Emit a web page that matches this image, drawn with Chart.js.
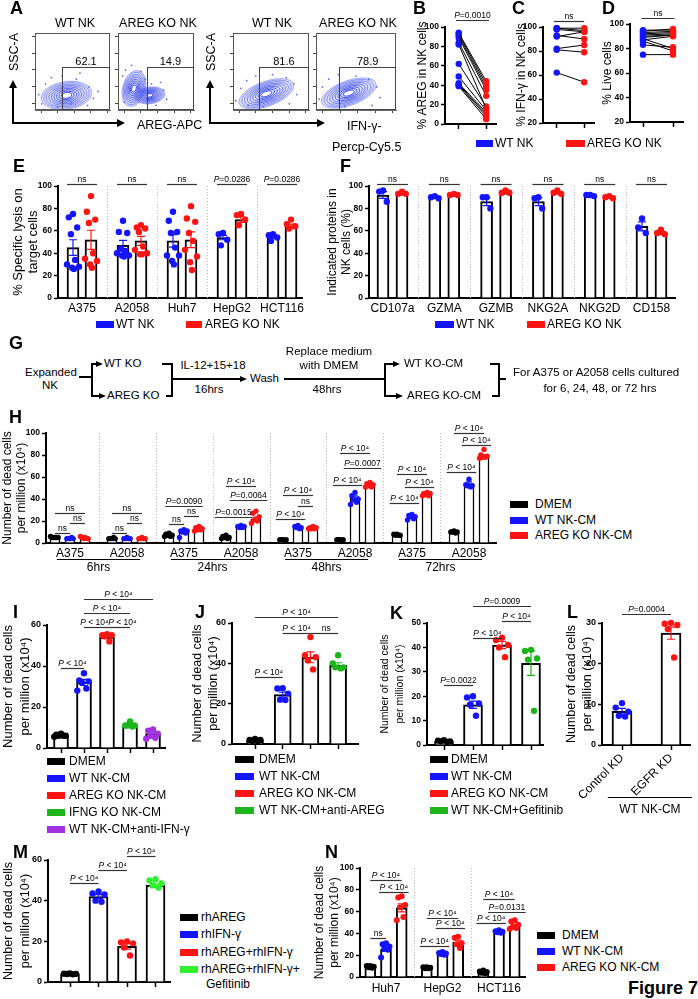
<!DOCTYPE html>
<html lang="en">
<head>
<meta charset="UTF-8">
<title>Figure 7</title>
<script src="https://cdn.jsdelivr.net/npm/chart.js"></script>
<style>
  body { margin: 0; width: 698px; height: 999px; position: relative; overflow: hidden; background: #fff;
         font-family: Arial, "Liberation Sans", Helvetica, sans-serif; color: #000; }
  canvas { position: absolute; }
  .t { position: absolute; white-space: nowrap; line-height: 1; }
  .ln { position: absolute; }
</style>
</head>
<body>
<script>
// ---------- data ----------
// A: flow cytometry plots
const flowTitles = ['WT NK', 'AREG KO NK', 'WT NK', 'AREG KO NK'];
const flowGatePct = ['62.1', '14.9', '81.6', '78.9'];
const flowGateLeft = [36, 38, 34, 29];
const flowGateTop = [56, 56, 56, 56];
// density blobs [cx, cy, rx, ry, tilt]
const flowBlobs = [
  [[42, 19, 34, 18, 8]],
  [[21, 28, 15, 24, -15], [42, 19, 20, 11, 8]],
  [[44, 21, 38, 16, 20]],
  [[41, 22, 36, 16, 20]]
];
const flowDots = [
  [[5, 20], [9, 8], [14, 34], [22, 42], [36, 44], [55, 40], [72, 30], [78, 15], [70, 6], [30, 4], [60, 48], [84, 24], [48, 8]],
  [[6, 44], [10, 52], [18, 58], [30, 50], [44, 34], [60, 26], [64, 14], [50, 6], [8, 10], [36, 40], [56, 36]],
  [[4, 12], [10, 28], [18, 38], [30, 44], [52, 46], [70, 42], [80, 34], [84, 20], [74, 8], [40, 4], [20, 6]],
  [[4, 14], [8, 30], [16, 40], [28, 46], [50, 44], [66, 40], [76, 30], [80, 16], [70, 6], [36, 4]]
];

// B-D: paired WT NK vs AREG KO NK
const pairLegend = ['WT NK', 'AREG KO NK'];
const bWT = [94, 93, 91, 89, 84, 82, 62, 49, 42, 41, 40, 39];
const bKO = [44, 41, 38, 35, 29, 16, 18, 14, 12, 10, 8, 5];
const cWT = [99, 99, 98, 93, 92, 82, 81, 62];
const cKO = [99, 97, 96, 90, 96, 85, 79, 54];
const dWT = [95, 94, 93, 92, 91, 90, 89, 88, 87, 86, 83, 75];
const dKO = [95, 96, 94, 93, 92, 91, 91, 80, 90, 78, 81, 75];

// E: % specific lysis
const eCells = ['A375', 'A2058', 'Huh7', 'HepG2', 'HCT116'];
const eWT = [45, 47, 51, 54, 55];
const eWTsem = [7, 4.5, 5.5, 2, 1.5];
const eKO = [52, 51, 52, 70, 64];
const eKOsem = [8.5, 4, 7, 2.5, 2];
const eWTpts = [[75, 72, 63, 57, 34, 30, 28, 27, 26], [69, 59, 58, 44, 42, 40, 38, 38, 37], [77, 69, 59, 58, 45, 38, 38, 33, 30], [58, 57, 52, 47], [57, 56, 54, 51]];
const eKOpts = [[91, 77, 70, 67, 40, 35, 33, 30, 27], [65, 63, 62, 59, 46, 43, 40, 39, 39], [82, 71, 68, 58, 51, 43, 37, 32, 25], [75, 74, 70, 65], [70, 66, 64, 62]];
const eP = ['ns', 'ns', 'ns', 'P=0.0286', 'P=0.0286'];

// F: indicated proteins in NK cells
const fProteins = ['CD107a', 'GZMA', 'GZMB', 'NKG2A', 'NKG2D', 'CD158'];
const fWT = [92, 90, 86, 86, 91, 64];
const fWTsem = [3, 0.8, 3.5, 3.5, 0.5, 4];
const fKO = [93, 92, 94, 94, 90, 58];
const fKOsem = [0.8, 0.3, 0.8, 0.8, 0.8, 1.5];
const fWTpts = [[96, 95, 86], [91, 90, 89], [90, 90, 80], [90, 89, 80], [92, 92, 91], [71, 63, 58]];
const fKOpts = [[95, 93, 93], [93, 92, 92], [96, 94, 94], [96, 94, 93], [91, 90, 89], [61, 58, 57]];

// H: dead cells over time
const hCells = ['A375', 'A2058', 'A375', 'A2058', 'A375', 'A2058', 'A375', 'A2058'];
const hTimes = ['6hrs', '24hrs', '48hrs', '72hrs'];
const hLegend = ['DMEM', 'WT NK-CM', 'AREG KO NK-CM'];
const hDMEM = [5, 4, 7, 5, 3, 3, 7, 10];
const hDMEMsem = [0.3, 0.3, 0.5, 0.5, 0.2, 0.2, 0.3, 0.4];
const hWT = [4, 4, 10, 15, 14, 41, 24, 54];
const hWTsem = [0.3, 0.3, 1, 0.5, 0.5, 1.8, 1, 1.5];
const hKO = [4, 4, 12, 22, 14, 52, 44, 79];
const hKOsem = [0.3, 0.3, 0.8, 1.6, 0.4, 0.5, 0.6, 1.3];
const hDMEMpts = [[5, 5, 5, 5, 5, 6], [4, 4, 4, 4, 5], [9, 8, 7, 7, 6, 6], [7, 6, 5, 5, 4, 4], [3, 3, 3, 3, 2], [3, 3, 3, 3, 2], [8, 8, 7, 7, 7], [11, 10, 10, 10, 9]];
const hWTpts = [[4, 4, 4, 4, 5], [5, 4, 4, 4, 4], [12, 11, 11, 10, 9, 5], [16, 15, 15, 14, 14], [16, 15, 14, 14, 13], [46, 43, 40, 39, 37, 35], [26, 25, 24, 24, 22, 21], [58, 53, 52, 52, 51]];
const hKOpts = [[5, 5, 4, 4, 4, 6], [5, 4, 4, 4, 4], [15, 14, 13, 12, 12, 11], [29, 27, 24, 21, 20, 18], [15, 14, 14, 13, 13, 13], [55, 54, 53, 52, 51, 51], [46, 45, 45, 44, 43, 43], [85, 80, 79, 78, 78, 77]];
// [group, bar a, bar b, level, text]
const hP = [
  [0, 0, 2, 27, 'ns'], [0, 0, 1, 9, 'ns'], [0, 1, 2, 18, 'ns'],
  [1, 0, 2, 27, 'ns'], [1, 0, 1, 9, 'ns'], [1, 1, 2, 18, 'ns'],
  [2, 0, 2, 34, 'P=0.0090'], [2, 0, 1, 17, 'ns'], [2, 1, 2, 25, 'ns'],
  [3, 0, 2, 52, 'P < 10⁴'], [3, 1, 2, 39, 'P=0.0064'], [3, 0, 1, 24, 'P=0.0015'],
  [4, 0, 2, 44, 'P < 10⁴'], [4, 1, 2, 34, 'ns'], [4, 0, 1, 22, 'P < 10⁴'],
  [5, 0, 2, 82, 'P < 10⁴'], [5, 1, 2, 68, 'P=0.0007'], [5, 0, 1, 53, 'P < 10⁴'],
  [6, 0, 2, 63, 'P < 10⁴'], [6, 1, 2, 51, 'P < 10⁴'], [6, 0, 1, 36, 'P < 10⁴'],
  [7, 0, 2, 100, 'P < 10⁴'], [7, 1, 2, 89, 'P < 10⁴'], [7, 0, 1, 65, 'P < 10⁴']
];

// I
const iLegend = ['DMEM', 'WT NK-CM', 'AREG KO NK-CM', 'IFNG KO NK-CM', 'WT NK-CM+anti-IFN-γ'];
const iMean = [6, 32, 54, 11, 7];
const iSem = [0.3, 1.5, 0.6, 0.5, 0.9];
const iPts = [[7, 6.5, 6, 6, 6, 5.5], [36.5, 33, 32.5, 32, 29, 28], [55.5, 55, 55, 54.5, 52], [13, 11, 11, 11, 10.5], [9, 8.5, 7, 6, 5, 4.5]];
// [bar a, bar b, level, text, text shift]
const iP = [[1, 4, 72.7, 'P < 10⁴', 0], [1, 3, 66, 'P < 10⁴', 0], [1, 2, 59, 'P < 10⁴', -1], [2, 3, 59, 'P < 10⁴', 4], [0, 1, 39, 'P < 10⁴', 0]];

// J
const jLegend = ['DMEM', 'WT NK-CM', 'AREG KO NK-CM', 'WT NK-CM+anti-AREG'];
const jMean = [2, 24.5, 43, 39];
const jSem = [0.2, 1.2, 2.7, 1.3];
const jPts = [[2.5, 2, 2, 1.5, 1.5], [27.7, 27.5, 25, 22, 21.8], [53, 44, 43, 41.5, 37], [44, 40, 38, 38, 37.5]];
const jP = [[0, 3, 63, 'P < 10⁴', 0], [1, 2, 55, 'P < 10⁴', 0], [2, 3, 55, 'ns', 2], [0, 1, 33, 'P < 10⁴', 0]];

// K
const kLegend = ['DMEM', 'WT NK-CM', 'AREG KO NK-CM', 'WT NK-CM+Gefitinib'];
const kMean = [1.5, 16.5, 41, 33.5];
const kSem = [0.2, 1.5, 1.5, 5];
const kPts = [[2, 1.8, 1.5, 1.5, 1.2], [20, 19.5, 17, 16.5, 12], [44, 43, 41, 40, 36], [39, 38.5, 35.5, 35, 14]];
const kP = [[1, 3, 57, 'P=0.0009', 0], [2, 3, 50.8, 'P < 10⁴', 0], [1, 2, 44, 'P < 10⁴', 0], [0, 1, 24.6, 'P=0.0022', 0]];

// L
const lKD = ['Control KD', 'EGFR KD'];
const lGroup = 'WT NK-CM';
const lMean = [8.3, 27.5];
const lSem = [0.7, 1.5];
const lPts = [[10.3, 9.2, 8.2, 7.2, 7], [30, 29.8, 29.5, 28.5, 21.5]];
const lP = [[0, 1, 32.2, 'P=0.0004', 0]];

// M
const mLegend = ['rhAREG', 'rhIFN-γ', 'rhAREG+rhIFN-γ', 'rhAREG+rhIFN-γ+'];
const mMean = [4, 42, 17.5, 47.5];
const mSem = [0.1, 1, 1.3, 0.8];
const mPts = [[4.2, 4.1, 4, 3.9, 3.8], [44.5, 43.5, 43, 40, 39.5], [20, 19.5, 19, 17, 13], [50.5, 50, 48.5, 47.5, 46.5]];
const mP = [[0, 1, 48.8, 'P < 10⁴', 0], [1, 2, 55, 'P < 10⁴', 0], [2, 3, 62, 'P < 10⁴', 0]];

// N
const nCells = ['Huh7', 'HepG2', 'HCT116'];
const nDMEM = [9.5, 8.5, 4.6];
const nDMEMsem = [0.4, 0.3, 0.4];
const nWT = [25.5, 21.5, 41.5];
const nWTsem = [2, 0.4, 0.4];
const nKO = [63.5, 32, 47];
const nKOsem = [3.7, 1.7, 1.2];
const nDMEMpts = [[10, 10, 9.5, 9, 8.5], [9, 9, 8.5, 8, 8], [6, 5, 4.5, 4, 3.5]];
const nWTpts = [[31, 30, 28, 26, 25, 18], [23, 22, 21.5, 21, 20.5], [43, 42, 41.5, 41, 40.5]];
const nKOpts = [[74, 73, 66, 64, 55, 52], [37, 36, 31, 30, 26.5], [52, 51, 48, 46, 45, 44]];
const nP = [
  [0, 0, 1, 36, 'ns'], [0, 0, 2, 89, 'P < 10⁴'], [0, 1, 2, 78, 'P < 10⁴'],
  [1, 0, 2, 54, 'P < 10⁴'], [1, 1, 2, 45, 'P < 10⁴'], [1, 0, 1, 28, 'P < 10⁴'],
  [2, 0, 2, 72, 'P < 10⁴'], [2, 1, 2, 60, 'P=0.0131'], [2, 0, 1, 49.5, 'P < 10⁴']
];

// ---------- helpers ----------
const FONT = 'Arial, "Liberation Sans", Helvetica, sans-serif';
const BLUE = '#1414ff', RED = '#ff1414', BLK = '#000', GRN = '#1cb51c', LGRN = '#2ef02e', PUR = '#a030e0';
Chart.defaults.font.family = FONT;
Chart.defaults.color = '#000';
const JIT = [0, -0.7, 0.7, -0.35, 0.35, -1, 1, -0.15, 0.15];

function mk(b) {
  const c = document.createElement('canvas');
  c.width = b[2] - b[0]; c.height = b[3] - b[1];
  c.style.left = b[0] + 'px'; c.style.top = b[1] + 'px';
  document.body.appendChild(c);
  return c;
}
function txt(s, x, y, o = {}) {
  const d = document.createElement('div');
  d.className = 't'; d.textContent = s;
  d.style.left = x + 'px'; d.style.top = y + 'px';
  d.style.fontSize = (o.fs || 12) + 'px';
  if (o.b) d.style.fontWeight = 'bold';
  const tx = o.al === 'c' ? '-50%' : o.al === 'r' ? '-100%' : '0';
  d.style.transform = `translate(${tx},-50%)` + (o.rot ? ` rotate(${o.rot}deg)` : '');
  document.body.appendChild(d);
}
function rect(x, y, w, h, col) {
  const d = document.createElement('div');
  d.className = 'ln';
  Object.assign(d.style, { left: x + 'px', top: y + 'px', width: w + 'px', height: h + 'px', background: col || '#000' });
  document.body.appendChild(d);
}
const hl = (x1, x2, y, w = 1.2) => rect(x1, y - w / 2, x2 - x1, w);
const vl = (x, y1, y2, w = 1.2) => rect(x - w / 2, y1 - w / 2, w, y2 - y1 + w);
function tri(x, y, dir, s = 7) {
  const d = document.createElement('div');
  d.style.position = 'absolute'; d.style.width = '0'; d.style.height = '0';
  if (dir === 'r') Object.assign(d.style, { left: (x - s) + 'px', top: (y - s / 2) + 'px', borderLeft: s + 'px solid #000', borderTop: (s / 2) + 'px solid transparent', borderBottom: (s / 2) + 'px solid transparent' });
  else Object.assign(d.style, { left: (x - s / 2) + 'px', top: y + 'px', borderBottom: s + 'px solid #000', borderLeft: (s / 2) + 'px solid transparent', borderRight: (s / 2) + 'px solid transparent' });
  document.body.appendChild(d);
}
const arrow = (x1, x2, y) => { hl(x1, x2 - 5, y); tri(x2, y, 'r'); };
function leg(sx, y, col, label, w, tx) { rect(sx, y - 3.5, w, 7, col); txt(label, tx, y); }

function sigWidth(ctx, t, fs) {
  const nf = fs + 'px ' + FONT;
  if (t[0] !== 'P') { ctx.font = nf; return ctx.measureText(t).width; }
  ctx.font = 'italic ' + nf; const w1 = ctx.measureText('P').width;
  ctx.font = nf; return w1 + ctx.measureText(t.slice(1)).width;
}
function sig(ctx, t, x, y, fs) {
  const nf = fs + 'px ' + FONT, itf = 'italic ' + nf;
  ctx.fillStyle = '#000'; ctx.textBaseline = 'alphabetic';
  if (t[0] === 'P') {
    const rest = t.slice(1);
    ctx.font = itf; const w1 = ctx.measureText('P').width;
    ctx.font = nf; const w2 = ctx.measureText(rest).width;
    const sx = x - (w1 + w2) / 2;
    ctx.textAlign = 'left';
    ctx.font = itf; ctx.fillText('P', sx, y);
    ctx.font = nf; ctx.fillText(rest, sx + w1, y);
  } else {
    ctx.textAlign = 'center'; ctx.font = nf; ctx.fillText(t, x, y);
  }
}

const errPlugin = {
  id: 'errs',
  afterDatasetsDraw(chart) {
    const { ctx, scales: { y } } = chart;
    chart.data.datasets.forEach((ds, di) => {
      if (!ds.err) return;
      chart.getDatasetMeta(di).data.forEach((el, i) => {
        const m = ds.data[i].y, e = ds.err[i];
        const y1 = y.getPixelForValue(m + e), y2 = y.getPixelForValue(m - e), w = ds.capW || 4;
        ctx.save();
        ctx.strokeStyle = ds.errColor[i]; ctx.lineWidth = 1.2;
        ctx.beginPath();
        ctx.moveTo(el.x, y1); ctx.lineTo(el.x, y2);
        ctx.moveTo(el.x - w, y1); ctx.lineTo(el.x + w, y1);
        ctx.moveTo(el.x - w, y2); ctx.lineTo(el.x + w, y2);
        ctx.stroke(); ctx.restore();
      });
    });
  }
};

function deco(c) {
  return {
    id: 'deco',
    beforeDatasetsDraw(chart) {
      if (!c.sep) return;
      const { ctx, chartArea: a, scales: { x } } = chart;
      ctx.save(); ctx.strokeStyle = '#b8b8b8'; ctx.lineWidth = 1; ctx.setLineDash([1, 2]);
      for (let i = 0; i < c.sep; i++) {
        const px = Math.round(x.getPixelForValue(i + 0.5)) + 0.5;
        ctx.beginPath(); ctx.moveTo(px, a.top); ctx.lineTo(px, a.bottom); ctx.stroke();
      }
      ctx.restore();
    },
    afterDraw(chart) {
      const { ctx, scales: { x, y } } = chart;
      const fs = c.fs || 8.5;
      ctx.save();
      (c.br || []).forEach(([xa, xb, v, t, dx]) => {
        let x1 = x.getPixelForValue(xa) - (c.pad || 0), x2 = x.getPixelForValue(xb) + (c.pad || 0);
        const mid = (x1 + x2) / 2 + (dx || 0);
        if (c.minText) {
          const w = sigWidth(ctx, t, fs) + 1;
          if (x2 - x1 < w) { x1 = mid - w / 2; x2 = mid + w / 2; }
        }
        const py = Math.round(y.getPixelForValue(v)) + 0.5;
        ctx.strokeStyle = '#333'; ctx.lineWidth = 1.2;
        ctx.beginPath(); ctx.moveTo(x1, py); ctx.lineTo(x2, py); ctx.stroke();
        sig(ctx, t, mid, py - 2.5, fs);
      });
      if (c.after) c.after(chart, ctx);
      ctx.restore();
    }
  };
}

function xScale(o) {
  const [cl, ct, cr, cb] = o.box, [L, T, R, B] = o.area;
  return {
    type: 'linear', offset: false, min: (L - o.x0) / o.unit, max: (R - o.x0) / o.unit,
    afterBuildTicks: s => { s.ticks = o.xt.map(v => ({ value: v })); },
    ticks: { autoSkip: false, maxRotation: o.xrot || 0, minRotation: o.xrot || 0, padding: o.xpad ?? 3,
             font: { size: o.xfs || 12 }, color: '#000', callback: (v, i) => (o.xl ? o.xl[i] : '') },
    grid: { offset: false, drawOnChartArea: false, drawTicks: !!o.xtm, tickLength: 5, tickWidth: 1.5, tickColor: '#000' },
    border: { color: '#000', width: 2 },
    afterFit: s => { s.height = cb - B; s.paddingLeft = 0; s.paddingRight = 0; }
  };
}
function yScale(o) {
  const cl = o.box[0], L = o.area[0], t = o.yt;
  return {
    type: 'linear', min: o.y[0], max: o.y[1],
    ticks: { stepSize: o.y[2], padding: 2, font: { size: o.yfs || 8.5, weight: 'bold' }, color: '#000' },
    grid: { drawOnChartArea: false, tickLength: 4, tickWidth: 1.5, tickColor: '#000' },
    border: { color: '#000', width: 2 },
    title: { display: true, text: t.text, color: '#000', font: { size: t.fs, lineHeight: t.lh / t.fs },
             padding: { top: Math.max(0, t.x - cl - t.lh / 2), bottom: 0 } },
    afterFit: s => { s.width = L - cl; s.paddingTop = 0; s.paddingBottom = 0; }
  };
}
function layoutFor(o) {
  return { padding: { left: 0, top: o.area[1] - o.box[1], right: o.box[2] - o.area[2], bottom: 0 } };
}

function barChart(o) {
  const cv = mk(o.box);
  const offs = (o.offPx || [0]).map(v => v / o.unit);
  const items = [];
  o.series.forEach((s, si) => s.mean.forEach((m, g) => items.push({
    x: g + offs[si], m, e: s.sem[g], p: s.pts[g], c: Array.isArray(s.color) ? s.color[g] : s.color })));
  const halfW = o.bw / 2 / o.unit * (o.spread || 0.9);
  const pts = [], pcol = [];
  items.forEach(it => it.p.forEach((v, k) => { pts.push({ x: it.x + JIT[k % JIT.length] * halfW, y: v }); pcol.push(it.c); }));
  const br = (o.br || []).map(b => o.offPx ? [b[0] + offs[b[1]], b[0] + offs[b[2]], b[3], b[4], 0] : b);
  new Chart(cv, {
    type: 'bar',
    data: { datasets: [
      { type: 'scatter', data: pts, pointRadius: o.r || 3.2, pointBackgroundColor: pcol, pointBorderWidth: 0, order: 1, clip: false },
      { type: 'bar', data: items.map(it => ({ x: it.x, y: it.m })), backgroundColor: '#fff', borderColor: '#000',
        borderWidth: o.bb || 2, barThickness: o.bw, grouped: false, order: 2,
        err: items.map(it => it.e), errColor: items.map(it => it.c), capW: o.cap || 4 }
    ] },
    options: {
      responsive: false, animation: false, events: [],
      layout: layoutFor(o),
      scales: { x: xScale(o), y: yScale(o) },
      plugins: { legend: { display: false }, tooltip: { enabled: false } }
    },
    plugins: [errPlugin, deco({ br, sep: o.sep, after: o.after, fs: o.sfs, pad: o.brPad, minText: o.minText })]
  });
}

function pairChart(o, wt, ko) {
  const cv = mk(o.box);
  const ds = wt.map((w, i) => ({
    type: 'line', data: [{ x: 0, y: w }, { x: 1, y: ko[i] }], borderColor: '#000', borderWidth: 1,
    pointRadius: 3.2, pointBackgroundColor: [BLUE, RED], pointBorderWidth: 0, clip: false
  }));
  new Chart(cv, {
    type: 'line',
    data: { datasets: ds },
    options: {
      responsive: false, animation: false, events: [],
      layout: layoutFor(o),
      scales: { x: xScale({ ...o, xt: [0, 1], xtm: true }), y: yScale(o) },
      plugins: { legend: { display: false }, tooltip: { enabled: false } }
    },
    plugins: [deco({ br: o.br })]
  });
}

function flowChart(i, area) {
  const [L, T, R, B] = area;
  const b = [L - 5, T - 1, R + 1, B + 5];
  const cv = mk(b);
  const ax = (isX) => ({
    type: 'linear', min: 0, max: 100,
    afterBuildTicks: s => { s.ticks = [8, 30, 52, 74, 96].map(v => ({ value: v })); },
    ticks: { display: false },
    grid: { drawOnChartArea: false, tickLength: 3, tickWidth: 1, tickColor: '#444' },
    border: { color: '#666', width: 1 },
    afterFit: s => { if (isX) s.height = 5; else s.width = 5; s.paddingLeft = s.paddingRight = s.paddingTop = s.paddingBottom = 0; }
  });
  new Chart(cv, {
    type: 'scatter',
    data: { datasets: [{ data: flowDots[i].map(([x, y]) => ({ x, y })), pointRadius: 0.9, pointBackgroundColor: '#5d6cf0', pointBorderWidth: 0 }] },
    options: {
      responsive: false, animation: false, events: [],
      layout: { padding: { left: 0, top: 1, right: 1, bottom: 0 } },
      scales: { x: ax(true), y: ax(false) },
      plugins: { legend: { display: false }, tooltip: { enabled: false } }
    },
    plugins: [{
      id: 'flow',
      beforeDatasetsDraw(chart) {
        const { ctx, scales: { x, y }, chartArea: a } = chart;
        ctx.save(); ctx.beginPath(); ctx.rect(a.left, a.top, a.width, a.height); ctx.clip();
        flowBlobs[i].forEach(([cx, cy, rx, ry, tilt]) => {
          const px = x.getPixelForValue(cx), py = y.getPixelForValue(cy);
          const sx = x.getPixelForValue(cx + rx) - px, sy = py - y.getPixelForValue(cy + ry);
          for (let k = 0; k < 9; k++) {
            const f = 1 - k * 0.1;
            ctx.beginPath(); ctx.ellipse(px, py, sx * f, sy * f, -tilt * Math.PI / 180, 0, Math.PI * 2);
            if (k === 0) { ctx.fillStyle = 'rgba(140,150,255,0.3)'; ctx.fill(); }
            if (k === 8) { ctx.fillStyle = '#fff'; ctx.fill(); }
            ctx.strokeStyle = `rgba(30,45,225,${0.4 + k * 0.07})`; ctx.lineWidth = 0.9; ctx.stroke();
          }
        });
        ctx.restore();
      },
      afterDraw(chart) {
        const { ctx, scales: { x, y }, chartArea: a } = chart;
        ctx.save();
        ctx.strokeStyle = '#555'; ctx.lineWidth = 1;
        ctx.strokeRect(a.left + 0.5, a.top + 0.5, a.width - 1, a.height - 1);
        const gx = x.getPixelForValue(flowGateLeft[i]), gy = y.getPixelForValue(flowGateTop[i]);
        ctx.strokeStyle = '#444';
        ctx.strokeRect(Math.round(gx) + 0.5, Math.round(gy) + 0.5, a.right - 1 - Math.round(gx), a.bottom - Math.round(gy) - 1);
        ctx.fillStyle = '#000'; ctx.font = '11px ' + FONT; ctx.textAlign = 'center'; ctx.textBaseline = 'alphabetic';
        ctx.fillText(flowGatePct[i], (gx + a.right) / 2, gy - 1.5);
        ctx.restore();
      }
    }]
  });
}

// ---------- panel A ----------
const flowAreas = [[35, 30, 113, 110], [118, 30, 197, 110], [233, 30, 312, 110], [316, 30, 399, 110]];
flowAreas.forEach((a, i) => flowChart(i, a));
[75, 158, 272, 358].forEach((x, i) => txt(flowTitles[i], x, 23, { al: 'c', fs: 12.5 }));
vl(13, 86, 123, 1.5); tri(13, 80, 'u', 8); hl(13, 118, 123, 1.5); tri(125, 123, 'r', 8);
vl(210, 86, 123, 1.5); tri(210, 80, 'u', 8); hl(210, 318, 123, 1.5); tri(325, 123, 'r', 8);
txt('SSC-A', 14, 52, { al: 'c', rot: -90, fs: 12.5 });
txt('SSC-A', 211, 52, { al: 'c', rot: -90, fs: 12.5 });
txt('AREG-APC', 137, 125, { fs: 12.5 });
txt('IFN-γ-', 347, 126, { fs: 12.5 });
txt('Percp-Cy5.5', 332, 147, { fs: 12.5 });

// ---------- panels B-D ----------
pairChart({ box: [405, 0, 500, 132], area: [445, 27, 497, 124], x0: 459, unit: 28, y: [0, 100, 20],
  yt: { text: '% AREG in NK cells', x: 423, fs: 12, lh: 14 }, br: [[-0.1, 1.1, 107, 'P=0.0010']] }, bWT, bKO);
pairChart({ box: [505, 0, 598, 132], area: [543, 27, 595, 123], x0: 557, unit: 28, y: [20, 100, 20],
  yt: { text: '% IFN-γ in NK cells', x: 522, fs: 12, lh: 14 }, br: [[-0.1, 1, 105, 'ns']] }, cWT, cKO);
pairChart({ box: [598, 0, 690, 132], area: [630, 24, 683, 122], x0: 643, unit: 30, y: [20, 100, 20],
  yt: { text: '% Live cells', x: 608, fs: 12, lh: 14 }, br: [[-0.05, 1.05, 105, 'ns']] }, dWT, dKO);
leg(476, 143, BLUE, pairLegend[0], 17, 495);
leg(566, 143, RED, pairLegend[1], 19, 587);

// ---------- panel E ----------
barChart({ box: [0, 166, 306, 318], area: [58, 186, 302, 298], x0: 82, unit: 50, offPx: [-9, 9], bw: 12,
  y: [0, 100, 20], xt: [0, 1, 2, 3, 4], xl: eCells, sep: 4, spread: 1.0, brPad: 6,
  yt: { text: ['% Specific lysis on', 'target cells'], x: 18, fs: 13, lh: 15 },
  series: [{ mean: eWT, sem: eWTsem, pts: eWTpts, color: BLUE }, { mean: eKO, sem: eKOsem, pts: eKOpts, color: RED }],
  br: eP.map((t, g) => [g, 0, 1, 101.8, t]) });
leg(96, 324, BLUE, pairLegend[0], 18, 116);
leg(186, 324, RED, pairLegend[1], 16, 205);

// ---------- panel F ----------
barChart({ box: [322, 166, 690, 318], area: [369, 186, 675, 298], x0: 392.5, unit: 51.8, offPx: [-9.5, 9.5], bw: 12,
  y: [0, 100, 20], xt: [0, 1, 2, 3, 4, 5], xl: fProteins, sep: 5, brPad: 6,
  yt: { text: ['Indicated proteins in', 'NK cells (%)'], x: 333, fs: 12, lh: 14 },
  series: [{ mean: fWT, sem: fWTsem, pts: fWTpts, color: BLUE }, { mean: fKO, sem: fKOsem, pts: fKOpts, color: RED }],
  br: fProteins.map((t, g) => [g, 0, 1, 101.8, 'ns']) });
leg(435, 324, BLUE, pairLegend[0], 19, 456);
leg(527, 324, RED, pairLegend[1], 18, 547);

// ---------- panel G (scheme) ----------
const g = (s, x, y, al) => txt(s, x, y, { fs: 11.5, al });
g('Expanded', 25, 373); g('NK', 50, 386, 'c');
hl(79, 92, 377); vl(92, 364, 396);
arrow(92, 103, 364); g('WT KO', 104, 364);
arrow(92, 106, 396); g('AREG  KO', 107, 396);
hl(162, 172, 364); vl(172, 364, 396); hl(166, 172, 396);
arrow(172, 247, 379);
g('IL-12+15+18', 213, 366, 'c'); g('16hrs', 209, 390, 'c');
g('Wash', 250, 379);
hl(284, 385, 379);
g('Replace  medium', 329, 352, 'c'); g('with DMEM', 329, 366, 'c'); g('48hrs', 327, 390, 'c');
vl(385, 364, 396);
arrow(385, 400, 364); g('WT KO-CM', 404, 364);
arrow(385, 403, 396); g('AREG KO-CM', 407, 396);
hl(490, 499, 364); vl(499, 364, 396); hl(492, 499, 396); hl(499, 506, 379);
g('For A375 or A2058 cells cultured', 513, 373); g('for 6, 24, 48, or 72 hrs', 600, 389, 'c');

// ---------- panel H ----------
barChart({ box: [0, 405, 500, 578], area: [46, 433, 496, 543], x0: 70, unit: 57, offPx: [-15, 0, 15], bw: 10, bb: 1.5, r: 2.7, cap: 3,
  y: [0, 100, 20], xt: [0, 1, 2, 3, 4, 5, 6, 7], xl: hCells, sep: 7, minText: true,
  yt: { text: ['Number of dead cells', 'per million (x10⁴)'], x: 8, fs: 12, lh: 14 },
  series: [{ mean: hDMEM, sem: hDMEMsem, pts: hDMEMpts, color: BLK }, { mean: hWT, sem: hWTsem, pts: hWTpts, color: BLUE },
           { mean: hKO, sem: hKOsem, pts: hKOpts, color: RED }],
  br: hP,
  after: (chart, ctx) => {
    const x = chart.scales.x, base = chart.chartArea.bottom;
    hTimes.forEach((t, k) => {
      const x1 = x.getPixelForValue(2 * k - 0.23), x2 = x.getPixelForValue(2 * k + 1 + 0.23);
      ctx.strokeStyle = '#000'; ctx.lineWidth = 1.2;
      ctx.beginPath(); ctx.moveTo(x1, base + 16.5); ctx.lineTo(x2, base + 16.5); ctx.stroke();
      ctx.fillStyle = '#000'; ctx.font = '12px ' + FONT; ctx.textAlign = 'center'; ctx.textBaseline = 'middle';
      ctx.fillText(t, (x1 + x2) / 2, base + 25);
    });
  } });
[504, 520, 535].forEach((y, i) => leg(510, y, [BLK, BLUE, RED][i], hLegend[i], 18, 535));

// ---------- panel I ----------
barChart({ box: [0, 586, 175, 756], area: [47, 625, 165, 748], x0: 61, unit: 23, bw: 15, yfs: 9,
  y: [0, 60, 20], xt: [0, 1, 2, 3, 4], xtm: true,
  yt: { text: ['Number of dead cells', 'per million (x10⁴)'], x: 8, fs: 13, lh: 17 },
  series: [{ mean: iMean, sem: iSem, pts: iPts, color: [BLK, BLUE, RED, GRN, PUR] }], br: iP });
[761, 778, 795, 812, 829].forEach((y, i) => leg(47, y, [BLK, BLUE, RED, GRN, PUR][i], iLegend[i], 18, 69));

// ---------- panel J ----------
barChart({ box: [190, 600, 365, 752], area: [232, 623, 358, 744], x0: 255, unit: 27.7, bw: 17, yfs: 9,
  y: [0, 60, 20], xt: [0, 1, 2, 3], xtm: true,
  yt: { text: ['Number of dead cells', 'per million (x10⁴)'], x: 197, fs: 12.5, lh: 16 },
  series: [{ mean: jMean, sem: jSem, pts: jPts, color: [BLK, BLUE, RED, GRN] }], br: jP });
[759, 776, 793, 810].forEach((y, i) => leg(235, y, [BLK, BLUE, RED, GRN][i], jLegend[i], 19, 259));

// ---------- panel K ----------
barChart({ box: [376, 598, 550, 753], area: [427, 623, 543, 745], x0: 444, unit: 29, bw: 19,
  y: [0, 50, 10], xt: [0, 1, 2, 3], xtm: true,
  yt: { text: ['Number of dead cells', 'per million (x10⁴)'], x: 385, fs: 10.5, lh: 15 },
  series: [{ mean: kMean, sem: kSem, pts: kPts, color: [BLK, BLUE, RED, GRN] }], br: kP });
[759, 776, 793, 810].forEach((y, i) => leg(430, y, [BLK, BLUE, RED, GRN][i], kLegend[i], 18, 451));

// ---------- panel L ----------
barChart({ box: [560, 600, 698, 818], area: [602, 623, 690, 745], x0: 622, unit: 49, bw: 20, yfs: 9,
  y: [0, 30, 10], xt: [0, 1], xl: lKD, xrot: 45, xtm: true, xpad: 1,
  yt: { text: ['Number of dead cells', 'per million (x10⁴)'], x: 572, fs: 12.5, lh: 16 },
  series: [{ mean: lMean, sem: lSem, pts: lPts, color: [BLUE, RED] }], br: lP,
  after: (chart, ctx) => {
    const x = chart.scales.x, base = chart.chartArea.bottom;
    const x1 = x.getPixelForValue(-0.29), x2 = x.getPixelForValue(1.43);
    ctx.strokeStyle = '#000'; ctx.lineWidth = 1.2;
    ctx.beginPath(); ctx.moveTo(x1, base + 52.5); ctx.lineTo(x2, base + 52.5); ctx.stroke();
    ctx.fillStyle = '#000'; ctx.font = '12px ' + FONT; ctx.textAlign = 'center'; ctx.textBaseline = 'middle';
    ctx.fillText(lGroup, (x1 + x2) / 2, base + 65);
  } });

// ---------- panel M ----------
barChart({ box: [0, 845, 176, 992], area: [48, 860, 170, 982], x0: 70, unit: 28.5, bw: 19, yfs: 9,
  y: [0, 60, 20], xt: [0, 1, 2, 3], xtm: true,
  yt: { text: ['Number of dead cells', 'per million (x10⁴)'], x: 8, fs: 12.5, lh: 17 },
  series: [{ mean: mMean, sem: mSem, pts: mPts, color: [BLK, BLUE, RED, LGRN] }], br: mP });
[917, 934, 952, 969].forEach((y, i) => leg(180, y, [BLK, BLUE, RED, LGRN][i], mLegend[i], 18, 201));
txt('Gefitinib', 206, 984);

// ---------- panel N ----------
barChart({ box: [312, 840, 530, 997], area: [360, 868, 525, 977], x0: 386, unit: 56.5, offPx: [-15.7, 0, 15.7], bw: 11, r: 3,
  y: [0, 100, 20], xt: [0, 1, 2], xl: nCells, xpad: 4, sep: 2, minText: true,
  yt: { text: ['Number of dead cells', 'per million (x10⁴)'], x: 320, fs: 12, lh: 15 },
  series: [{ mean: nDMEM, sem: nDMEMsem, pts: nDMEMpts, color: BLK }, { mean: nWT, sem: nWTsem, pts: nWTpts, color: BLUE },
           { mean: nKO, sem: nKOsem, pts: nKOpts, color: RED }],
  br: nP });
[935, 951, 967].forEach((y, i) => leg(537, y, [BLK, BLUE, RED][i], hLegend[i], 18, 562));

// ---------- panel letters ----------
[['A', 10, 8], ['B', 413, 8], ['C', 512, 8], ['D', 602, 8], ['E', 13, 166], ['F', 340, 166], ['G', 9, 343],
 ['H', 9, 417], ['I', 13, 612], ['J', 195, 612], ['K', 390, 613], ['L', 567, 612], ['M', 13, 852], ['N', 325, 852]]
  .forEach(([s, x, y]) => txt(s, x, y, { fs: 18, b: true }));
txt('Figure 7', 628, 988, { fs: 18, b: true });
</script>
</body>
</html>
